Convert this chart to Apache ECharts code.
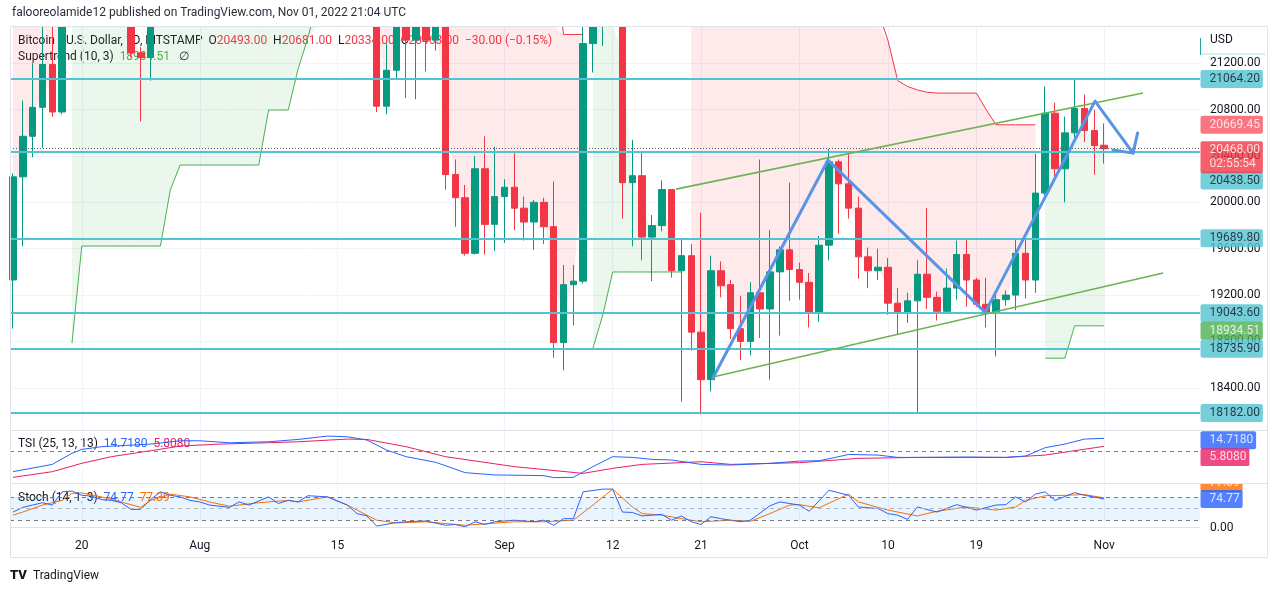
<!DOCTYPE html>
<html>
<head>
<meta charset="utf-8">
<script src="https://cdn.jsdelivr.net/npm/echarts@6/dist/echarts.min.js"></script>
<style>
html,body{margin:0;padding:0;background:#fff;}
#chart{width:1280px;height:595px;}
</style>
</head>
<body>
<div id="chart"></div>
<script>
// ---------------- DATA ----------------
const firstDate = '2022-07-13';          // day index 0
// one row per day from 2022-07-13 : [open, high, low, close]
const candles = [
[19330,20250,18910,20220],[20220,20880,19620,20570],[20570,21200,20390,20820],[20820,21570,20470,21190],
[21190,21650,20740,20780],[20780,22740,20760,22430],[22430,23780,21580,23400],[23400,24280,22930,23230],
[23230,23430,22350,23160],[23160,23760,22520,22680],[22680,22990,21950,22460],[22460,23000,22270,22580],
[22580,22660,21250,21290],[21290,21340,20700,21250],[21250,23060,21050,22950],[22950,24170,22600,23850],
[23850,24420,23460,23780],[23780,24650,23510,23640],[23640,24190,23230,23300],[23300,23490,22850,23270],
[23270,23460,22670,22980],[22980,23650,22690,22830],[22830,23220,22430,22620],[22620,23450,22600,23310],
[23310,23350,22930,22960],[22960,23370,22850,23180],[23180,24240,23160,23810],[23810,23930,22880,23150],
[23150,24190,22680,23950],[23950,24920,23880,23940],[23940,24450,23600,24400],[24400,24890,24290,24440],
[24440,25050,24150,24310],[24310,25200,23790,24100],[24100,24250,23690,23860],[23860,24470,23190,23340],
[23340,23610,23080,23210],[23210,23210,20780,20830],[20830,21370,20760,21140],[21140,21690,21060,21520],
[21520,21520,20900,21400],[21400,21670,20890,21530],[21530,21840,21130,21400],[21400,21800,21310,21560],
[21560,21880,20110,20240],[20240,20370,19790,20040],[20040,20150,19540,19560],[19560,20400,19550,20290],
[20290,20570,19550,19810],[19810,20480,19580,20050],[20050,20200,19650,20130],[20130,20440,19760,19950],
[19950,20050,19670,19830],[19830,20020,19590,20000],[20000,20040,19640,19790],[19790,20180,18660,18790],
[18790,19460,18550,19290],[19290,19460,18940,19320],[19320,21560,19300,21370],[21370,21800,21120,21650],
[21650,21840,21350,21830],[21830,22490,21570,22400],[22400,22780,19860,20170],[20170,20540,19620,20230],
[20230,20430,19500,19700],[19700,19890,19320,19800],[19800,20190,19750,20110],[20110,20110,19350,19410],
[19410,19680,18280,19540],[19540,19640,18720,18880],[18880,19910,18170,18470],[18470,19540,18370,19410],
[19410,19490,19180,19280],[19290,19330,18820,18910],[18910,19190,18640,18800],[18800,19310,18680,19220],
[19220,20370,18830,19080],[19080,19760,18470,19400],[19400,19620,18850,19590],[19590,20170,19150,19420],
[19420,19480,19160,19310],[19310,19390,18920,19050],[19050,19710,18970,19630],[19630,20460,19500,20350],
[20350,20370,19730,20160],[20160,20440,19860,19950],[19950,20050,19340,19530],[19530,19610,19260,19410],
[19410,19600,19330,19440],[19440,19520,19030,19130],[19130,19260,18860,19050],[19050,19220,18960,19150],
[19150,19500,18182,19380],[19380,19950,19080,19180],[19180,19230,18980,19060],[19060,19430,19040,19260],
[19260,19670,19160,19550],[19550,19690,19100,19330],[19330,19350,19100,19120],[19120,19350,18920,19040],
[19040,19240,18670,19160],[19160,19240,19110,19200],[19200,19680,19070,19560],[19560,19680,19170,19330],
[19330,20420,19220,20080],[20080,21000,20060,20770],[20770,20860,20210,20290],[20290,20740,20000,20600],
[20600,21070,20560,20810],[20810,20930,20520,20620],[20620,20800,20240,20490],[20493,20681,20334,20463]
];
// Supertrend (10, 3) per day; null where the trend is the other way
const supertrendUp = [
null,null,null,null,null,null,18786,19623,19623,19623,19623,19623,19623,19623,19623,19623,
20107,20322,20322,20322,20322,20322,20322,20322,20322,20322,20797,20797,20797,21150,21420,21750,
22050,22200,22300,22300,22300,
null,null,null,null,null,null,null,null,null,null,null,null,null,null,null,null,null,null,null,null,null,null,
18742,19028,19399,19399,19399,19399,19399,19399,19399,19399,
null,null,null,null,null,null,null,null,null,null,null,null,null,null,null,null,null,null,
null,null,null,null,null,null,null,null,null,null,null,null,null,null,null,null,null,null,
18655,18655,18655,18934.51,18934.51,18934.51,18934.51
];
const supertrendDown = [
22380,22380,22380,22380,22380,22380,
null,null,null,null,null,null,null,null,null,null,null,null,null,null,null,null,
null,null,null,null,null,null,null,null,null,null,null,null,null,null,null,
24300,24300,24300,24300,24300,24300,24300,24300,23400,23400,23400,23400,23400,
22600,22600,22600,22600,22600,22200,21449,21449,21449,
null,null,null,null,null,null,null,null,null,null,
21950,21950,21950,21950,21950,21950,21950,21950,21950,21950,21950,
21800,21800,21800,21800,21800,21800,21800,21800,21650,21400,21050,21000,20970,20950,
20943,20943,20943,20943,20943,20800,20669.45,20669.45,20669.45,20669.45,20669.45,
null,null,null,null,null,null,null
];
const priceTicks = [18400,18800,19200,19600,20000,20400,20800,21200];
const levels = [21064.20,20438.50,19689.80,19043.60,18735.90,18182.00];
const lastPrice = 20468.00;
const countdown = '02:55:54';
const prevDownTrend = 20669.45;
// drawings: [day index, price]
const channelUpper = [[67.45,20114],[114.95,20944]];
const channelLower = [[71.2,18493],[117.0,19390]];
const zigzag = [[71.2,18484],[82.9,20364],[98.9,19051],[110.07,20874],[113.94,20425]];
const arrowHead = [[111.9,20451],[113.94,20425],[114.4,20598]];
// TSI (25,13,13): [day, value]
const tsiLine = [[0,-22.4],[4,-14.3],[5,-8],[6,-2],[7,2.4],[9,5.4],[14,8.3],[17,12],[19,12],[22,9.8],[26,10.9],
[29,13.5],[32,17.2],[34,16.5],[36,12.8],[38,1.7],[40,-5.7],[43,-12],[46,-23.5],[49,-26],[54,-26.8],[55,-29],
[57,-28.7],[59,-16.8],[61,-5.7],[63,-6.5],[65,-8.7],[67,-9.4],[70,-14.3],[73,-15],[77,-13.1],[80,-10.6],
[82,-10.2],[84,-5.7],[85,-3.2],[88,-3.9],[90,-6.5],[92,-6.5],[97,-6.1],[101,-6.5],[103,-5],[105,4.3],
[107,8.3],[109,13.9],[111,14.718]];
const tsiSignal = [[0,-28.7],[4,-22.4],[7,-13.1],[10,-5.7],[14,0.9],[17,6.1],[21,8.3],[26,9.8],[29,10.9],
[34,13.9],[36,13.5],[40,5.4],[44,-5.7],[51,-16.8],[58,-24.3],[61,-18.7],[64,-14.3],[70,-11.3],[73,-14.3],
[80,-12.4],[86,-7.6],[92,-6.5],[101,-6.5],[105,-3.9],[111,5.808]];
// Stoch (14,1,3)
const stochK = [[0,41],[1,53],[2,59],[3,65],[4,59],[5,93],[6,95],[7,84],[8,82],[9,73],[10,71],[11,65],[12,48],
[13,48],[14,73],[15,93],[16,84],[17,80],[18,71],[19,67],[20,59],[22,53],[23,67],[24,59],[26,80],[27,63],[28,71],
[29,67],[30,83],[32,80],[34,59],[35,37],[36,31],[37,5],[39,14],[40,16],[42,18],[44,7],[45,9],[46,3],[47,16],
[48,9],[49,16],[51,20],[53,16],[54,20],[55,7],[56,24],[57,24],[58,93],[60,100],[61,100],[62,41],[63,40],
[64,31],[66,35],[67,20],[68,31],[69,16],[70,9],[71,29],[72,24],[74,16],[75,20],[77,57],[78,67],[80,59],
[81,43],[83,97],[85,84],[86,54],[88,50],[89,37],[90,33],[91,22],[92,54],[94,41],[96,60],[98,46],[100,59],
[101,60],[102,80],[103,67],[104,87],[105,93],[106,71],[108,91],[109,84],[111,74.77]];
const stochD = [[0,33],[1,41],[3,59],[5,71],[6,89],[7,90],[9,80],[11,67],[13,53],[14,71],[16,87],[18,80],
[20,67],[22,56],[25,65],[28,71],[29,67],[32,80],[34,59],[37,20],[39,13],[42,16],[46,7],[51,16],[54,16],
[57,20],[59,59],[61,100],[63,54],[64,37],[66,33],[68,24],[70,16],[73,20],[75,17],[77,37],[79,59],[80,60],
[82,52],[85,87],[86,67],[89,46],[92,31],[94,43],[97,54],[100,46],[102,54],[103,71],[105,83],[107,84],
[109,86],[111,77.39]];
const stochLevels = [80,50,20];
const timeTickDates = ['2022-07-20','2022-08-01','2022-08-15','2022-09-01','2022-09-12','2022-09-21',
                       '2022-10-01','2022-10-10','2022-10-19','2022-11-01'];
const timeTickTexts = ['20','Aug','15','Sep','12','21','Oct','10','19','Nov'];

// ---------------- CHART ----------------
const DAY = 86400000;
const dayOf = s => Math.round((Date.parse(s) - Date.parse(firstDate)) / DAY);
const tickDays = timeTickDates.map(dayOf);
const X_MIN = -0.305, X_MAX = 120.75;
const FONT = 'Roboto, "Noto Sans", sans-serif';
const TXT = '#131722';
const UP = '#089981', DOWN = '#f23645';
const LEVEL = '#52c3d1';

const mid = i => (candles[i][0] + candles[i][3]) / 2;
const last = candles[candles.length - 1];

function xAxisFor(g) {
  return {
    type: 'value', gridIndex: g, min: X_MIN, max: X_MAX,
    axisLine: {show: false},
    axisTick: {show: false, customValues: tickDays},
    axisLabel: {show: g === 2, customValues: tickDays, margin: 12, color: TXT, fontSize: 12, fontFamily: FONT,
      formatter: v => { const k = tickDays.indexOf(Math.round(v)); return k >= 0 ? timeTickTexts[k] : ''; }},
    splitLine: {show: true, lineStyle: {color: '#f0f3fa', width: 1}}
  };
}

function fillSeries(st, color) {
  const data = [];
  for (let i = 0; i < st.length - 1; i++) if (st[i] != null && st[i + 1] != null) data.push([i, st[i]]);
  return {
    type: 'custom', xAxisIndex: 0, yAxisIndex: 0, z: 1, silent: true, clip: true,
    encode: {x: 0, y: 1}, data,
    renderItem: (params, api) => {
      const i = api.value(0);
      let pts = [api.coord([i, st[i]]), api.coord([i + 1, st[i + 1]]), api.coord([i + 1, mid(i + 1)]), api.coord([i, mid(i)])];
      if (echarts.graphic && echarts.graphic.clipPointsByRect) pts = echarts.graphic.clipPointsByRect(pts, params.coordSys);
      return {type: 'polygon', shape: {points: pts}, style: {fill: color}, silent: true};
    }
  };
}

function badge(x, y, text, bg, fg, dy) {
  return {value: [x, y], label: {show: true, position: 'right', distance: 0, formatter: text,
    backgroundColor: bg, color: fg, fontSize: 12, fontFamily: FONT, padding: [2, 3, 2, 9],
    borderRadius: 2, offset: [0, dy || 0], lineHeight: 14}};
}

const mainBadges = levels.map(v => badge(X_MAX, v, v.toFixed(2), LEVEL, TXT, v === 20438.50 ? 29 : 0));
mainBadges.push(badge(X_MAX, prevDownTrend, prevDownTrend.toFixed(2), '#f7525f', '#fff', 0));
mainBadges.push(badge(X_MAX, lastPrice, lastPrice.toFixed(2) + '\n' + countdown, DOWN, '#fff', 9));
const stLast = supertrendUp[supertrendUp.length - 1];
mainBadges.push(badge(X_MAX, stLast, stLast.toFixed(2), '#4caf50', '#fff', 5));

const tsiLast = tsiLine[tsiLine.length - 1][1], sigLast = tsiSignal[tsiSignal.length - 1][1];
const kLast = stochK[stochK.length - 1][1], dLast = stochD[stochD.length - 1][1];

const chg = last[3] - last[0];
const chgPct = chg / last[0] * 100;
const minus = v => (v < 0 ? '\u2212' : '+') + Math.abs(v).toFixed(2);

const option = {
  animation: false,
  backgroundColor: '#ffffff',
  grid: [
    {left: 10, width: 1190, top: 26, height: 404, outerBoundsMode: 'none'},
    {left: 10, width: 1190, top: 430, height: 53, outerBoundsMode: 'none'},
    {left: 10, width: 1190, top: 483, height: 45, outerBoundsMode: 'none'}
  ],
  xAxis: [xAxisFor(0), xAxisFor(1), xAxisFor(2)],
  yAxis: [
    {type: 'value', gridIndex: 0, position: 'right', min: 18035.4, max: 21522, scale: true,
     axisLine: {show: false}, axisTick: {show: false, customValues: priceTicks},
     axisLabel: {customValues: priceTicks, formatter: v => v.toFixed(2), margin: 10, color: TXT, fontSize: 12, fontFamily: FONT},
     splitLine: {show: true, lineStyle: {color: '#f0f3fa'}}},
    {type: 'value', gridIndex: 1, position: 'right', min: -35, max: 24,
     axisLine: {show: false}, axisTick: {show: false}, axisLabel: {show: false}, splitLine: {show: false}},
    {type: 'value', gridIndex: 2, position: 'right', min: 0, max: 115.7,
     axisLine: {show: false}, axisTick: {show: false, customValues: [0]},
     axisLabel: {customValues: [0], formatter: v => v.toFixed(2), margin: 10, color: TXT, fontSize: 12, fontFamily: FONT},
     splitLine: {show: false}}
  ],
  series: [
    fillSeries(supertrendUp, 'rgba(76,175,80,0.11)'),
    fillSeries(supertrendDown, 'rgba(242,54,69,0.11)'),
    {type: 'line', xAxisIndex: 0, yAxisIndex: 0, z: 2, data: [], silent: true,
     markLine: {symbol: ['none', 'none'], silent: true, label: {show: false},
       lineStyle: {color: LEVEL, width: 2, type: 'solid'},
       data: levels.map(v => ({yAxis: v}))}},
    {type: 'line', xAxisIndex: 0, yAxisIndex: 0, z: 2, data: [], silent: true,
     markLine: {symbol: ['none', 'none'], silent: true, label: {show: false},
       lineStyle: {color: '#5d606b', width: 1, type: [1, 2]},
       data: [{yAxis: lastPrice}]}},
    {type: 'line', xAxisIndex: 0, yAxisIndex: 0, z: 2, symbol: 'none', silent: true,
     data: supertrendUp.map((v, i) => [i, v == null ? '-' : v]), lineStyle: {color: '#4caf50', width: 1}},
    {type: 'line', xAxisIndex: 0, yAxisIndex: 0, z: 2, symbol: 'none', silent: true,
     data: supertrendDown.map((v, i) => [i, v == null ? '-' : v]), lineStyle: {color: '#f23645', width: 1}},
    {type: 'candlestick', xAxisIndex: 0, yAxisIndex: 0, z: 3, barWidth: 7,
     data: candles.map((c, i) => [i, c[0], c[3], c[2], c[1]]),
     itemStyle: {color: UP, color0: DOWN, borderColor: UP, borderColor0: DOWN, borderWidth: 1}},
    {type: 'line', xAxisIndex: 0, yAxisIndex: 0, z: 5, symbol: 'none', silent: true, data: channelUpper,
     lineStyle: {color: '#6db352', width: 1.6}},
    {type: 'line', xAxisIndex: 0, yAxisIndex: 0, z: 5, symbol: 'none', silent: true, data: channelLower,
     lineStyle: {color: '#6db352', width: 1.6}},
    {type: 'line', xAxisIndex: 0, yAxisIndex: 0, z: 6, symbol: 'none', silent: true, data: zigzag,
     lineStyle: {color: '#5a94e6', width: 3, cap: 'round', join: 'round'}},
    {type: 'line', xAxisIndex: 0, yAxisIndex: 0, z: 6, symbol: 'none', silent: true, data: arrowHead,
     lineStyle: {color: '#5a94e6', width: 3, cap: 'round', join: 'round'}},
    {type: 'scatter', xAxisIndex: 0, yAxisIndex: 0, z: 10, clip: false, symbolSize: 1, silent: true,
     itemStyle: {color: 'rgba(0,0,0,0)'}, data: mainBadges},
    // TSI pane
    {type: 'line', xAxisIndex: 1, yAxisIndex: 1, symbol: 'none', silent: true, data: tsiSignal,
     lineStyle: {color: '#e91e63', width: 1}},
    {type: 'line', xAxisIndex: 1, yAxisIndex: 1, symbol: 'none', silent: true, data: tsiLine,
     lineStyle: {color: '#2962ff', width: 1},
     markLine: {symbol: ['none', 'none'], silent: true, label: {show: false},
       lineStyle: {color: '#787b86', width: 1, type: [4, 4]}, data: [{yAxis: 0}]}},
    {type: 'scatter', xAxisIndex: 1, yAxisIndex: 1, z: 10, clip: false, symbolSize: 1, silent: true,
     itemStyle: {color: 'rgba(0,0,0,0)'},
     data: [badge(X_MAX, tsiLast, tsiLast.toFixed(4), '#2962ff', '#fff', 2),
            badge(X_MAX, sigLast, sigLast.toFixed(4), '#e91e63', '#fff', 11)]},
    // Stoch pane
    {type: 'line', xAxisIndex: 2, yAxisIndex: 2, symbol: 'none', silent: true, data: stochD,
     lineStyle: {color: '#ff6d00', width: 1},
     markArea: {silent: true, itemStyle: {color: 'rgba(33,150,243,0.1)'},
       data: [[{yAxis: stochLevels[2]}, {yAxis: stochLevels[0]}]]}},
    {type: 'line', xAxisIndex: 2, yAxisIndex: 2, symbol: 'none', silent: true, data: stochK,
     lineStyle: {color: '#2962ff', width: 1},
     markLine: {symbol: ['none', 'none'], silent: true, label: {show: false},
       data: stochLevels.map(v => ({yAxis: v, lineStyle: {color: v === 50 ? '#b2b5be' : '#787b86', width: 1, type: [4, 4]}}))}},
    {type: 'scatter', xAxisIndex: 2, yAxisIndex: 2, z: 10, clip: false, symbolSize: 1, silent: true,
     itemStyle: {color: 'rgba(0,0,0,0)'},
     data: [badge(X_MAX, dLast, dLast.toFixed(2), '#ff6d00', '#fff', -15),
            badge(X_MAX, kLast, kLast.toFixed(2), '#2962ff', '#fff', 0)]}
  ],
  graphic: [
    {type: 'text', left: 18, top: 35, z: 0, style: {
      text: '{t|Bitcoin / U.S. Dollar, 1D, BITSTAMP  O}{r|' + last[0].toFixed(2) + '}{t|  H}{r|' + last[1].toFixed(2) +
            '}{t|  L}{r|' + last[2].toFixed(2) + '}{t|  C}{r|' + last[3].toFixed(2) + '}{r|  ' + minus(chg) + ' (' + minus(chgPct) + '%)}',
      rich: {t: {fill: TXT, fontSize: 12, fontFamily: FONT}, r: {fill: DOWN, fontSize: 12, fontFamily: FONT}}}},
    {type: 'text', left: 18, top: 51, z: 0, style: {
      text: '{t|Supertrend (10, 3)  }{g|' + stLast.toFixed(2) + '}{t|   \u2205}',
      rich: {t: {fill: TXT, fontSize: 12, fontFamily: FONT}, g: {fill: '#4caf50', fontSize: 12, fontFamily: FONT}}}},
    {type: 'text', left: 18, top: 438, z: 0, style: {
      text: '{t|TSI (25, 13, 13)  }{b|' + tsiLast.toFixed(4) + '}{t|  }{p|' + sigLast.toFixed(4) + '}',
      rich: {t: {fill: TXT, fontSize: 12, fontFamily: FONT}, b: {fill: '#2962ff', fontSize: 12, fontFamily: FONT},
             p: {fill: '#e91e63', fontSize: 12, fontFamily: FONT}}}},
    {type: 'text', left: 18, top: 492, z: 0, style: {
      text: '{t|Stoch (14, 1, 3)  }{b|' + kLast.toFixed(2) + '}{t|  }{o|' + dLast.toFixed(2) + '}',
      rich: {t: {fill: TXT, fontSize: 12, fontFamily: FONT}, b: {fill: '#2962ff', fontSize: 12, fontFamily: FONT},
             o: {fill: '#ff6d00', fontSize: 12, fontFamily: FONT}}}},
    // white band above the price pane (pane clipping) + page title
    {type: 'rect', z: 100, shape: {x: 0, y: 0, width: 1280, height: 26}, style: {fill: '#ffffff'}},
    {type: 'rect', z: 100, shape: {x: 1199, y: 466, width: 68, height: 17}, style: {fill: '#ffffff'}},
    {type: 'text', z: 101, left: 12, top: 7, style: {text: 'falooreolamide12 published on TradingView.com, Nov 01, 2022 21:04 UTC',
      fill: '#2a2e39', fontSize: 12, fontFamily: FONT}},
    {type: 'text', z: 101, left: 1210, top: 34, style: {text: 'USD', fill: TXT, fontSize: 12, fontFamily: FONT}},
    {type: 'line', z: 101, shape: {x1: 1200.5, y1: 38, x2: 1200.5, y2: 55}, style: {stroke: '#26a69a', lineWidth: 1}},
    {type: 'line', z: 101, shape: {x1: 1201, y1: 54, x2: 1265, y2: 54}, style: {stroke: '#b2dfdb', lineWidth: 1}},
    // pane frame & separators
    {type: 'rect', z: 101, shape: {x: 10.5, y: 26.5, width: 1257, height: 531}, style: {fill: 'none', stroke: '#e0e3eb', lineWidth: 1}},
    {type: 'line', z: 101, shape: {x1: 10, y1: 430.5, x2: 1268, y2: 430.5}, style: {stroke: '#e0e3eb', lineWidth: 1}},
    {type: 'line', z: 101, shape: {x1: 10, y1: 483.5, x2: 1268, y2: 483.5}, style: {stroke: '#e0e3eb', lineWidth: 1}},
    {type: 'line', z: 101, shape: {x1: 10, y1: 527.5, x2: 1200, y2: 527.5}, style: {stroke: '#e0e3eb', lineWidth: 1}},
    // footer
    {type: 'text', z: 101, left: 10, top: 569, style: {text: 'TV', fill: TXT, fontSize: 13, fontWeight: 900, fontFamily: FONT}},
    {type: 'text', z: 101, left: 33, top: 570, style: {text: 'TradingView', fill: TXT, fontSize: 12, fontFamily: FONT}}
  ]
};

const chart = echarts.init(document.getElementById('chart'), null, {renderer: 'canvas'});
chart.setOption(option);
</script>
</body>
</html>
